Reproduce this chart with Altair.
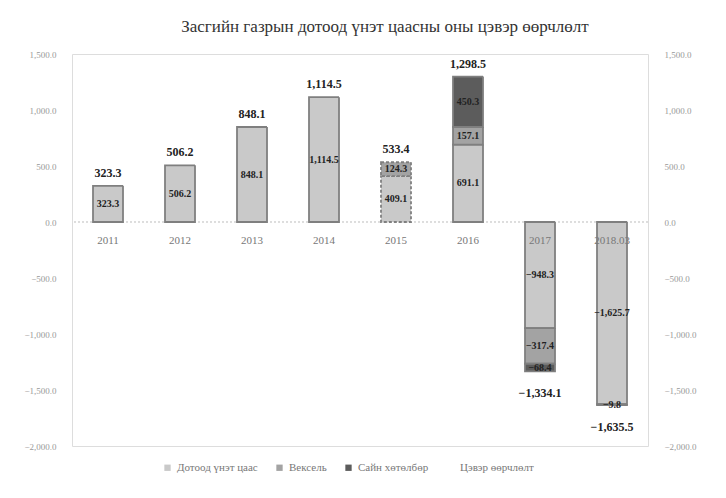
import altair as alt
import pandas as pd

title_text = "Засгийн газрын дотоод үнэт цаасны оны цэвэр өөрчлөлт"
years = ["2011", "2012", "2013", "2014", "2015", "2016", "2017", "2018.03"]
series_names = ["Дотоод үнэт цаас", "Вексель", "Сайн хөтөлбөр", "Цэвэр өөрчлөлт"]
domestic = [323.3, 506.2, 848.1, 1114.5, 409.1, 691.1, -948.3, -1625.7]
veksel = [0, 0, 0, 0, 124.3, 157.1, -317.4, -9.8]
sain = [0, 0, 0, 0, 0, 450.3, -68.4, 0]
net = [323.3, 506.2, 848.1, 1114.5, 533.4, 1298.5, -1334.1, -1635.5]
colors = ["#c9c9c9", "#a3a3a3", "#5c5c5c", "#ffffff"]

rows = []
for i, yr in enumerate(years):
    for k, (name, vals) in enumerate(zip(series_names[:3], [domestic, veksel, sain])):
        if vals[i] != 0:
            rows.append({"year": yr, "series": name, "ord": k, "value": vals[i]})
seg = pd.DataFrame(rows)
tot = pd.DataFrame({"year": years, "net": net})

FONT = "Liberation Serif"
ydom = [-2000, 1500]

def yscale():
    return alt.Scale(domain=ydom, nice=False, zero=False)

xenc = alt.X("year:N", sort=years, axis=None, scale=alt.Scale(paddingInner=0.5, paddingOuter=0.25))

base = alt.Chart(seg).transform_stack(
    stack="value", groupby=["year"], as_=["y0", "y1"],
    sort=[alt.SortField(field="ord", order="ascending")]
).transform_calculate(mid="(datum.y0 + datum.y1) / 2")

bars = base.mark_bar(size=30, stroke="#7f7f7f", strokeWidth=1.8).encode(
    x=xenc,
    y=alt.Y("y0:Q", scale=yscale(), title=None,
            axis=alt.Axis(orient="left", format=",.1f", values=[1500, 1000, 500, 0, -500, -1000, -1500, -2000],
                          domain=False, ticks=False, grid=False, labelPadding=16,
                          labelFont=FONT, labelFontSize=9, labelColor="#999")),
    y2="y1:Q",
    color=alt.Color("series:N", scale=alt.Scale(domain=series_names, range=colors),
                    legend=alt.Legend(title=None, orient="none", legendX=90, legendY=408,
                                      direction="horizontal", symbolType="square", symbolSize=40,
                                      symbolStrokeWidth=0, labelFont=FONT, labelFontSize=11,
                                      labelColor="#777", columnPadding=16)),
    strokeDash=alt.condition(alt.datum.year == "2015", alt.value([3, 2]), alt.value([1, 0])),
)

inner = base.mark_text(font=FONT, fontSize=10, fontWeight="bold", color="#222").encode(
    x=xenc,
    y=alt.Y("mid:Q", scale=yscale(), axis=None),
    text=alt.Text("value:Q", format=",.1f"),
)

tot_pos = alt.Chart(tot).transform_filter("datum.net >= 0").mark_text(
    font=FONT, fontSize=12, fontWeight="bold", color="#222", baseline="middle", dy=-13
).encode(
    x=xenc,
    y=alt.Y("net:Q", scale=yscale(), title=None,
            axis=alt.Axis(orient="right", format=",.1f", values=[1500, 1000, 500, 0, -500, -1000, -1500, -2000],
                          domain=False, ticks=False, grid=False, labelPadding=16,
                          labelFont=FONT, labelFontSize=9, labelColor="#999")),
    text=alt.Text("net:Q", format=",.1f"),
)

tot_neg = alt.Chart(tot).transform_filter("datum.net < 0").mark_text(
    font=FONT, fontSize=12, fontWeight="bold", color="#222", baseline="middle", dy=22
).encode(
    x=xenc,
    y=alt.Y("net:Q", scale=yscale(), axis=None),
    text=alt.Text("net:Q", format=",.1f"),
)

zero_line = alt.Chart(tot).transform_calculate(z="0").mark_rule(
    color="#dddddd", strokeDash=[2, 2], strokeWidth=1
).encode(y=alt.Y("z:Q", scale=yscale(), axis=None))

year_lbl = alt.Chart(tot).transform_calculate(z="0").mark_text(
    font=FONT, fontSize=11, color="#777", baseline="middle", dy=19
).encode(
    x=xenc,
    y=alt.Y("z:Q", scale=yscale(), axis=None),
    text="year:N",
)

chart = alt.layer(zero_line, bars, inner, tot_pos, tot_neg, year_lbl).resolve_scale(
    y="independent"
).properties(
    width=576, height=392,
    title=alt.TitleParams(title_text, font=FONT, fontSize=17, fontWeight="normal",
                          color="#333", offset=14, dx=25, anchor="middle"),
    autosize=alt.AutoSizeParams(type="none"),
    padding={"left": 64, "top": 46, "right": 70, "bottom": 44},
).configure_view(stroke=None).configure(background="white")

chart.save("out.html", embed_options={"renderer": "svg", "actions": False})
